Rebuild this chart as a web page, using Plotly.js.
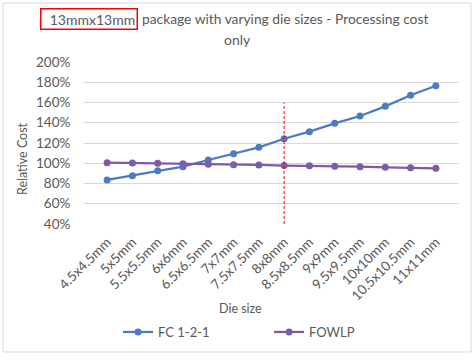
<!DOCTYPE html>
<html>
<head>
<meta charset="utf-8">
<script src="https://cdn.plot.ly/plotly-3.0.1.min.js"></script>
<style>html,body{margin:0;padding:0;background:#fff;}#chart{width:474px;height:360px;}</style>
</head>
<body>
<div id="chart"></div>
<script>
const dieSizes = ["4.5x4.5mm","5x5mm","5.5x5.5mm","6x6mm","6.5x6.5mm","7x7mm","7.5x7.5mm","8x8mm","8.5x8.5mm","9x9mm","9.5x9.5mm","10x10mm","10.5x10.5mm","11x11mm"];
const fc121 = [83.5, 87.7, 92.6, 96.6, 103.2, 109.4, 115.7, 124.2, 131.2, 139.4, 146.7, 156.2, 167.1, 176.6];
const fowlp = [100.5, 100.2, 100.0, 99.4, 99.0, 98.6, 98.3, 97.7, 97.5, 97.0, 96.6, 96.0, 95.5, 95.0];
const yTicks = [40, 60, 80, 100, 120, 140, 160, 180, 200];
const yTickText = ["40%","60%","80%","100%","120%","140%","160%","180%","200%"];
const markerCategory = "8x8mm";
const markerTop = 160;

const FONT = "Lato, 'Noto Sans', sans-serif";
const GREY = "#595959";

// plot area: x 84..459, y 62..224
const L = 84, R = 15, T = 62, B = 136, W = 474, H = 360;
const pw = W - L - R, ph = H - T - B;
const px = v => (v - L) / pw;
const py = v => (H - B - v) / ph;

const traces = [
  {name: "FC 1-2-1", x: dieSizes, y: fc121, type: "scatter", mode: "lines+markers",
   line: {color: "#4A7CC4", width: 2.25}, marker: {color: "#4A7CC4", size: 7}},
  {name: "FOWLP", x: dieSizes, y: fowlp, type: "scatter", mode: "lines+markers",
   line: {color: "#7E5BA6", width: 2.25}, marker: {color: "#7E5BA6", size: 7}}
];

const layout = {
  width: W, height: H,
  margin: {l: L, r: R, t: T, b: B},
  paper_bgcolor: "#fff", plot_bgcolor: "#fff",
  font: {family: FONT, color: GREY, size: 12},
  showlegend: true,
  legend: {orientation: "h", x: px(118), xanchor: "left", y: py(332), yanchor: "middle",
           font: {family: FONT, size: 13, color: GREY}, entrywidth: 106, entrywidthmode: "pixels",
           itemwidth: 30, bgcolor: "rgba(0,0,0,0)"},
  xaxis: {type: "category", tickangle: -45, showgrid: false, zeroline: false, showline: false,
          ticks: "outside", ticklen: 4, tickcolor: "rgba(0,0,0,0)",
          tickfont: {family: FONT, size: 13.5, color: GREY}},
  yaxis: {range: [40, 200], tickvals: yTicks, ticktext: yTickText, showgrid: true,
          gridcolor: "#d9d9d9", gridwidth: 1, zeroline: false, showline: false,
          ticks: "outside", ticklen: 10, tickcolor: "rgba(0,0,0,0)",
          tickfont: {family: FONT, size: 13.5, color: GREY}},
  shapes: [
    {type: "line", xref: "x", yref: "y", x0: markerCategory, x1: markerCategory, y0: 40, y1: markerTop,
     line: {color: "#FF0000", width: 1, dash: "3px,2px"}},
    {type: "rect", xref: "paper", yref: "paper", x0: px(3), x1: px(471), y0: py(352), y1: py(3),
     line: {color: "#d9d9d9", width: 1}, layer: "below"}
  ],
  annotations: [
    {xref: "paper", yref: "paper", x: px(138), y: py(19), xanchor: "right", yanchor: "middle",
     text: "\u00a0\u00a013mmx13mm", showarrow: false, bordercolor: "#FF0000", borderwidth: 1.5, borderpad: 1,
     font: {family: FONT, size: 14, color: GREY}},
    {xref: "paper", yref: "paper", x: px(140), y: py(19), xanchor: "left", yanchor: "middle",
     text: "package with varying die sizes - Processing cost", showarrow: false,
     font: {family: FONT, size: 13.8, color: GREY}},
    {xref: "paper", yref: "paper", x: px(237), y: py(39), xanchor: "center", yanchor: "middle",
     text: "only", showarrow: false, font: {family: FONT, size: 14, color: GREY}},
    {xref: "paper", yref: "paper", x: px(240), y: py(308), xanchor: "center", yanchor: "middle",
     text: "Die size", showarrow: false, font: {family: FONT, size: 12.5, color: GREY}},
    {xref: "paper", yref: "paper", x: px(22), y: py(159), xanchor: "center", yanchor: "middle",
     text: "Relative Cost", textangle: -90, showarrow: false, font: {family: FONT, size: 12.5, color: GREY}}
  ]
};

Plotly.newPlot("chart", traces, layout, {displayModeBar: false, staticPlot: true});
</script>
</body>
</html>
